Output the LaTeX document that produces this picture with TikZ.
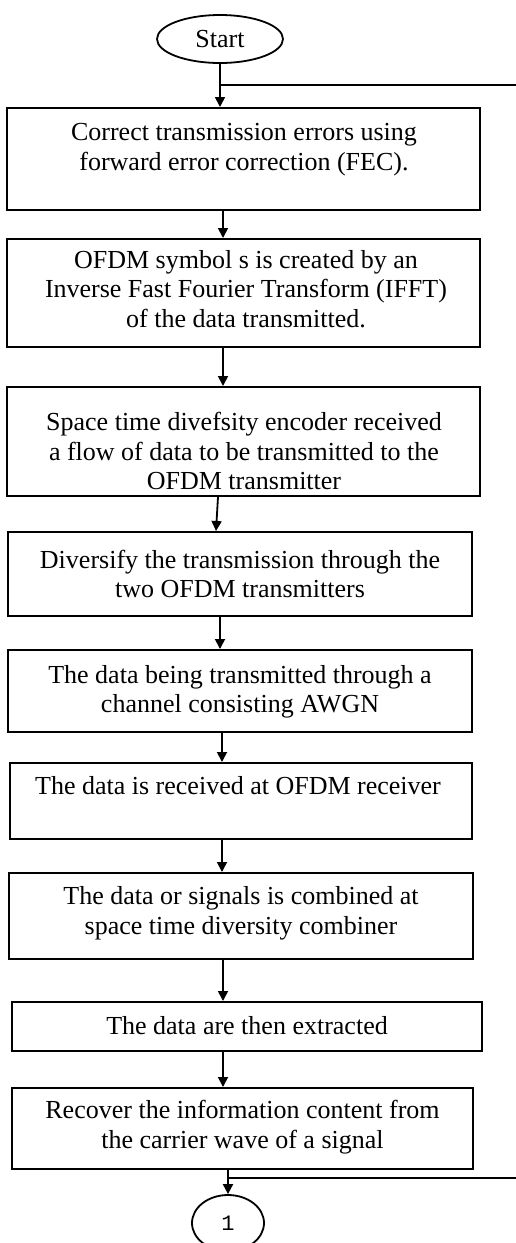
\documentclass[tikz,border=0pt]{standalone}
\usepackage{fontspec}
\setmainfont{Liberation Serif}
\newfontfamily\monofnt{Liberation Mono}
\usetikzlibrary{arrows.meta,shapes.geometric}
\begin{document}
\begin{tikzpicture}[x=1pt,y=-1pt,
  stepbox/.style={draw,line width=2pt,rectangle,inner sep=0pt},
  steptext/.style={align=center,font=\fontsize{26}{29.5}\selectfont,inner sep=0pt},
  term/.style={draw,line width=1.8pt,ellipse,inner sep=0pt},
  flow/.style={line width=1.8pt,-{Triangle[length=10pt,width=10pt]}},
  loopline/.style={line width=1.8pt}]
\useasboundingbox (0,0) rectangle (516,1243);

% terminals
\node[term,minimum width=126pt,minimum height=48pt,font=\fontsize{26}{30}\selectfont] (start) at (220,39) {Start};
\node[term,minimum width=72pt,minimum height=56pt,font=\monofnt\fontsize{22}{26}\selectfont] (c1) at (228,1223) {1};

% process boxes
\node[stepbox,minimum width=473pt,minimum height=102pt] (b1) at (243.5,159) {};
\node[stepbox,minimum width=473pt,minimum height=108pt] (b2) at (243.5,293) {};
\node[stepbox,minimum width=473pt,minimum height=109pt] (b3) at (243.5,441.5) {};
\node[stepbox,minimum width=464pt,minimum height=84pt] (b4) at (240,574) {};
\node[stepbox,minimum width=464pt,minimum height=82pt] (b5) at (240,691) {};
\node[stepbox,minimum width=462pt,minimum height=76pt] (b6) at (241,801) {};
\node[stepbox,minimum width=464pt,minimum height=86pt] (b7) at (241,916) {};
\node[stepbox,minimum width=470pt,minimum height=49pt] (b8) at (247,1026.5) {};
\node[stepbox,minimum width=461pt,minimum height=81pt] (b9) at (242.5,1128.5) {};

% box texts
\node[steptext] (t1) at (244,149.5) {Correct transmission errors using\\forward error correction (FEC).};
\node[steptext] (t2) at (246,289) {OFDM symbol s is created by an\\Inverse Fast Fourier Transform (IFFT)\\of the data transmitted.};
\node[steptext] (t3) at (244,451) {Space time divefsity encoder received\\a flow of data to be transmitted to the\\OFDM transmitter};
\node[steptext] (t4) at (240,574) {Diversify the transmission through the\\two OFDM transmitters};
\node[steptext] (t5) at (240,692) {The data being transmitted through a\\channel consisting AWGN};
\node[steptext] (t6) at (238,786) {The data is received at OFDM receiver};
\node[steptext] (t7) at (241,913.5) {The data or signals is combined at\\space time diversity combiner};
\node[steptext] (t8) at (247,1026) {The data are then extracted};
\node[steptext] (t9) at (242.5,1127) {Recover the information content from\\the carrier wave of a signal};

% flow arrows
\draw[flow] (start.south) -- (start.south |- b1.north);
\draw[flow] ([xshift=-20.5pt]b1.south) -- ([xshift=-20.5pt]b2.north);
\draw[flow] ([xshift=-20.5pt]b2.south) -- ([xshift=-20.5pt]b3.north);
\draw[flow] ([xshift=-25.5pt]b3.south) -- ([xshift=-24pt]b4.north);
\draw[flow] ([xshift=-20pt]b4.south) -- ([xshift=-20pt]b5.north);
\draw[flow] ([xshift=-18pt]b5.south) -- ([xshift=-19pt]b6.north);
\draw[flow] ([xshift=-19pt]b6.south) -- ([xshift=-19pt]b7.north);
\draw[flow] ([xshift=-18pt]b7.south) -- ([xshift=-24pt]b8.north);
\draw[flow] ([xshift=-24pt]b8.south) -- ([xshift=-19.5pt]b9.north);
\draw[flow] ([xshift=-14.5pt]b9.south) -- (c1.north);

% lines running off to the right
\coordinate (inR) at (516,85);
\coordinate (outR) at (516,1178);
\draw[loopline] (inR) -- (start.south |- inR);
\draw[loopline] (outR) -- (c1.north |- outR);
\end{tikzpicture}
\end{document}
